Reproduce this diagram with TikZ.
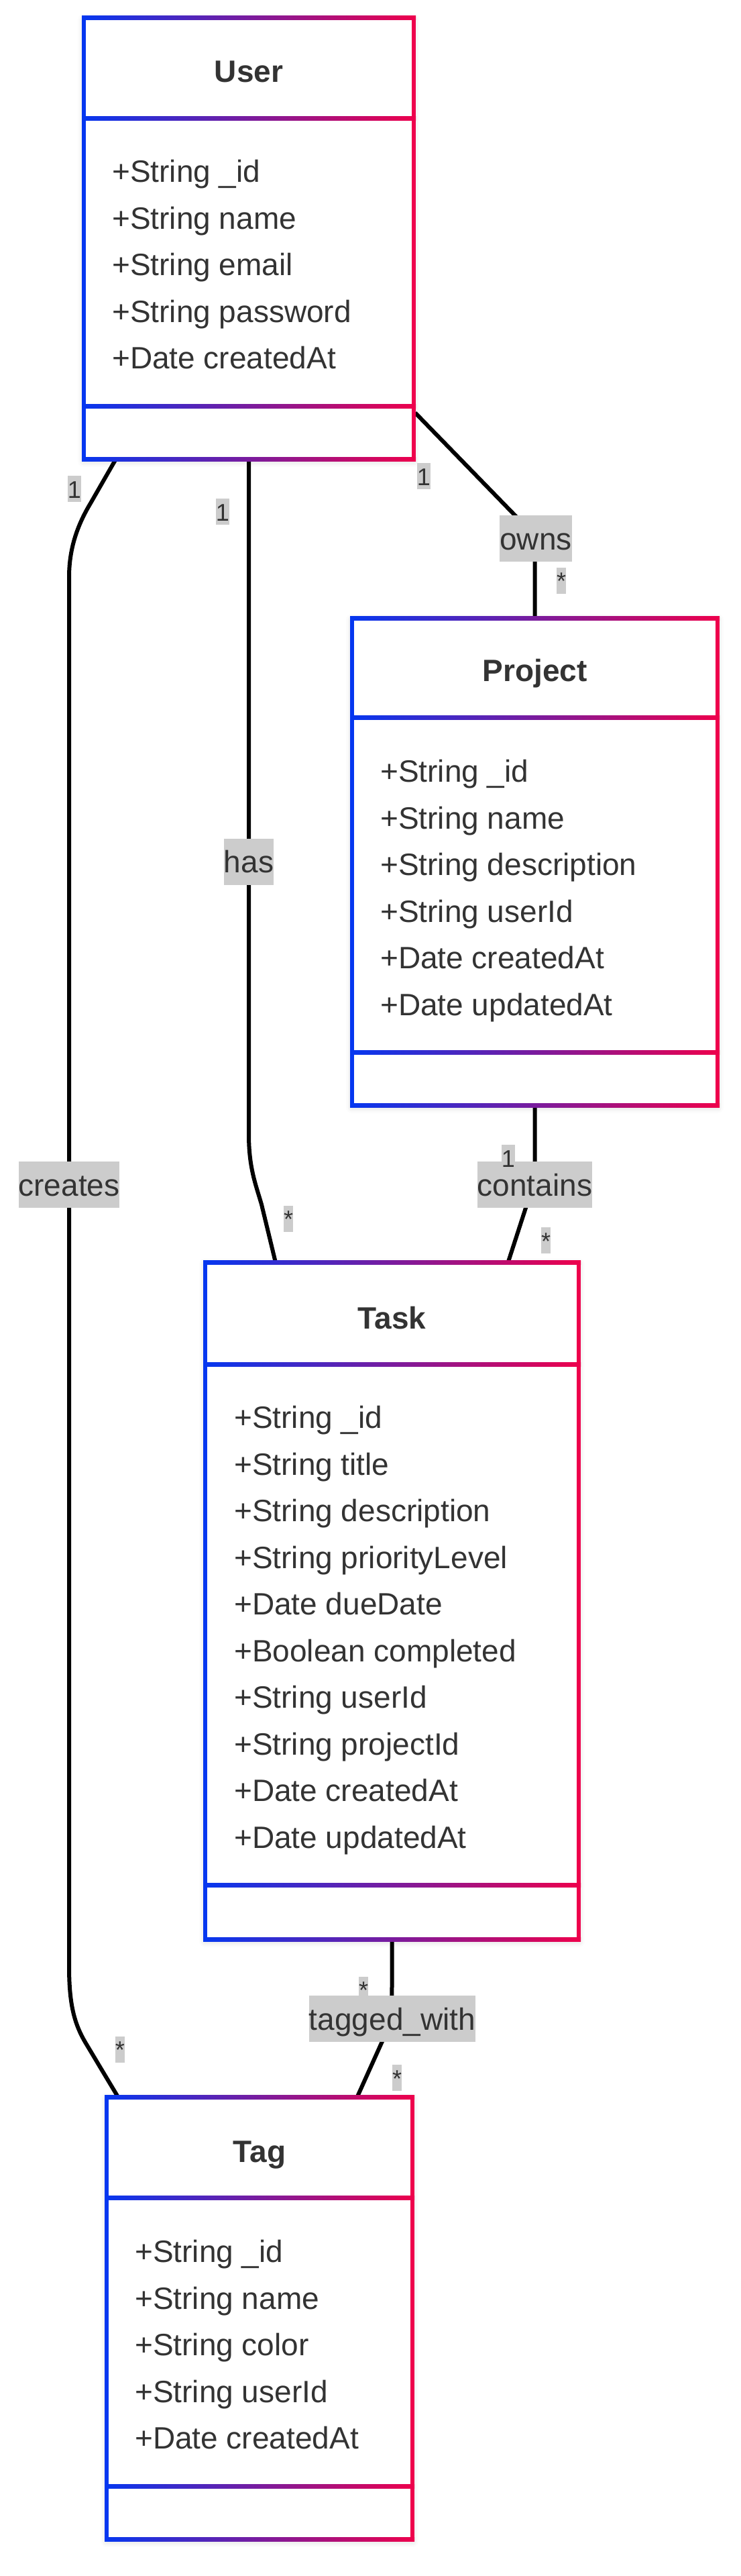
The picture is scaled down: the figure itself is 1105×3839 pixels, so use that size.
\documentclass[tikz,border=0pt]{standalone}
\usepackage{fontspec}
\setmainfont{Liberation Sans}
\usetikzlibrary{calc,fit,shadows.blur}
\definecolor{cblue}{RGB}{5,55,240}
\definecolor{cred}{RGB}{238,0,76}
\definecolor{tcol}{RGB}{51,51,51}
\definecolor{lbg}{RGB}{204,204,204}
\newcommand\bigfont{\fontsize{46}{55}\selectfont}
\newcommand\smallfont{\fontsize{36}{43}\selectfont}
\tikzset{
  framenode/.style={inner sep=0pt, draw=none},
  boxshadow/.style={fill=white, blur shadow={shadow xshift=0pt, shadow yshift=-3pt, shadow blur radius=9pt, shadow opacity=18}},
  attrtext/.style={anchor=base west, inner sep=0pt, font=\bigfont, text=tcol},
  titletext/.style={anchor=base, inner sep=0pt, font=\bigfont\bfseries, text=tcol},
  edgelabel/.style={fill=lbg, inner sep=0pt, font=\bigfont, text=tcol, text height=51pt, text depth=18pt},
  cardlabel/.style={fill=lbg, inner sep=0pt, font=\smallfont, text=tcol, text height=33pt, text depth=6pt},
  conn/.style={draw=black, line width=6pt, line join=round},
}
\newcommand\umlframe[7]{%
  \path[boxshadow] (#2,#4) rectangle (#3,#7);
  \node[framenode, fit={(#2,#4) (#3,#7)}] (#1) {};
  \fill[cblue] (#2-3,#4-3) rectangle (#2+3,#7+3);
  \fill[cred] (#3-3,#4-3) rectangle (#3+3,#7+3);
  \foreach \yy in {#4,#5,#6,#7}{\shade[left color=cblue,right color=cred] (#2-3,\yy-3) rectangle (#3+3,\yy+3);}
}
\newcommand\umlattrs[4]{%
  \foreach \t [count=\i] in {#4}{\node[attrtext] (#1-a\i) at (#2,{#3+(\i-1)*69.5}) {\t};}
}
\begin{document}
\begin{tikzpicture}[x=1pt, y=-1pt]
\useasboundingbox (0,0) rectangle (1105,3839);
% named frames used as connector ends
\node[framenode, fit={(125,26.5) (617,684)}] (user) {};
\node[framenode, fit={(525,921) (1070,1647)}] (project) {};
\node[framenode, fit={(306,1881) (863,2890)}] (task) {};
\node[framenode, fit={(159,3125) (615,3784)}] (tag) {};
% connectors
\draw[conn] ($(user.south west)+(48,0)$) -- (135,750) .. controls (117,780) and (103,815) .. (103,860) -- (103,2930) .. controls (103,2985) and (110,3015) .. (128,3045) -- ($(tag.north west)+(17,0)$);
\draw[conn] (user.south) -- (371,1690) .. controls (371,1740) and (381,1764) .. (390,1795) -- ($(task.north west)+(105,0)$);
\draw[conn] ($(user.south east)+(2,-69)$) -- (765,765) .. controls (786,786) and (797.5,800) .. (797.5,830) -- (project.north);
\draw[conn] (project.south) -- (797.5,1730) .. controls (797.5,1760) and (792,1775) .. (785,1797) -- ($(task.north west)+(452,0)$);
\draw[conn] (task.south) -- (584.5,2960) .. controls (584.5,2995) and (580,3020) .. (571,3040) -- ($(tag.north west)+(374,0)$);
% class boxes
\umlframe{userbox}{125}{617}{26.5}{176}{605}{684}
\node[titletext] (user-t) at (371,122) {User};
\umlattrs{user}{167}{271.5}{+String \_id,+String name,+String email,+String password,+Date createdAt}
\umlframe{projectbox}{525}{1070}{921}{1069}{1568}{1647}
\node[titletext] (project-t) at (797.5,1015.5) {Project};
\umlattrs{project}{567}{1165.5}{+String \_id,+String name,+String description,+String userId,+Date createdAt,+Date updatedAt}
\umlframe{taskbox}{306}{863}{1881}{2033}{2809}{2890}
\node[titletext] (task-t) at (584.5,1980.5) {Task};
\umlattrs{task}{349}{2128.5}{+String \_id,+String title,+String description,+String priorityLevel,+Date dueDate,+Boolean completed,+String userId,+String projectId,+Date createdAt,+Date updatedAt}
\umlframe{tagbox}{159}{615}{3125}{3275}{3705}{3784}
\node[titletext] (tag-t) at (387,3222.5) {Tag};
\umlattrs{tag}{201}{3371.5}{+String \_id,+String name,+String color,+String userId,+Date createdAt}
% edge labels
\node[edgelabel] (l-creates) at (103,1765.5) {creates};
\node[edgelabel] (l-has) at (371,1284) {has};
\node[edgelabel] (l-owns) at (799,802.5) {owns};
\node[edgelabel] (l-contains) at (797.5,1765.5) {contains};
\node[edgelabel] (l-tagged) at (585,3008.5) {tagged\_with};
% cardinalities
\node[cardlabel] (c1) at (111,728.5) {1};
\node[cardlabel] (c2) at (332,762.5) {1};
\node[cardlabel] (c3) at (632,709.5) {1};
\node[cardlabel] (c4) at (837,865) {*};
\node[cardlabel] (c5) at (430,1816) {*};
\node[cardlabel] (c6) at (758,1725.5) {1};
\node[cardlabel] (c7) at (814,1848.5) {*};
\node[cardlabel] (c8) at (542,2965) {*};
\node[cardlabel] (c9) at (592,3096.5) {*};
\node[cardlabel] (c10) at (179,3054) {*};
\end{tikzpicture}
\end{document}
